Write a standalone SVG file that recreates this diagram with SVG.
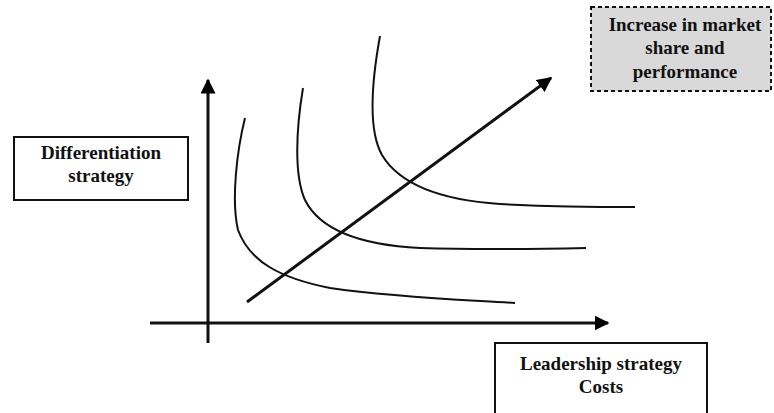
<svg xmlns="http://www.w3.org/2000/svg" width="774" height="413" viewBox="0 0 774 413">
<defs>
<marker id="ah" viewBox="0 0 10 10" refX="9" refY="5" markerWidth="5" markerHeight="5" orient="auto" markerUnits="strokeWidth">
<path d="M0,0 L10,5 L0,10 z" fill="#000"/>
</marker>
<style>
.t{font-family:"Liberation Serif","Times New Roman",serif;font-weight:bold;font-size:19px;fill:#111;text-anchor:middle}
.box{fill:#fff;stroke:#111;stroke-width:2}
.curve{fill:none;stroke:#111;stroke-width:2}
.axis{fill:none;stroke:#111;stroke-width:3}
</style>
</defs>
<rect width="774" height="413" fill="#fff"/>
<g id="connectors">
<line class="axis" x1="208" y1="343" x2="208" y2="80" marker-end="url(#ah)"/>
<line class="axis" x1="150" y1="323" x2="608" y2="323" marker-end="url(#ah)"/>
<line class="axis" x1="247" y1="302" x2="551" y2="78" marker-end="url(#ah)"/>
</g>
<g id="curves">
<path class="curve" d="M245,118 C237,150 231,200 238,230 C250,262 280,278 330,288 C400,298 470,300 515,303"/>
<path class="curve" d="M303,88 C296,130 294,175 305,200 C320,230 360,245 420,248 C480,250 540,249 586,248"/>
<path class="curve" d="M380,36 C372,80 368,130 382,155 C400,185 440,200 500,204 C560,207 600,207 635,207"/>
</g>
<g id="node-increase">
<rect x="591" y="7" width="180" height="84" fill="#d9d9d9" stroke="#111" stroke-width="2" stroke-dasharray="4,3"/>
<text class="t" x="685" y="31">Increase in market</text>
<text class="t" x="685" y="54">share and</text>
<text class="t" x="685" y="78">performance</text>
</g>
<g id="node-differentiation">
<rect class="box" x="14" y="137" width="174" height="63"/>
<text class="t" x="101" y="159">Differentiation</text>
<text class="t" x="101" y="182">strategy</text>
</g>
<g id="node-leadership">
<rect class="box" x="495" y="343" width="212" height="80"/>
<text class="t" x="601" y="370">Leadership strategy</text>
<text class="t" x="601" y="393">Costs</text>
</g>
</svg>
